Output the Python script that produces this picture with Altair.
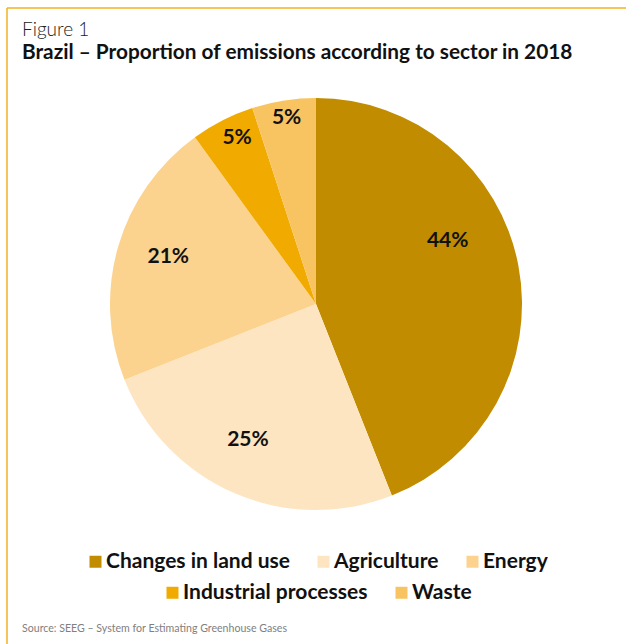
import altair as alt
import pandas as pd

sectors = ["Changes in land use", "Agriculture", "Energy", "Industrial processes", "Waste"]
shares = [44, 25, 21, 5, 5]
colors = ["#C18C00", "#FDE5C2", "#FBD38F", "#F1AA00", "#F8C461"]
labels = [f"{s}%" for s in shares]
title_text = "Figure 1"
subtitle_text = "Brazil – Proportion of emissions according to sector in 2018"
source_text = "Source: SEEG – System for Estimating Greenhouse Gases"

# label placement styles (radius in px, angular offset in radians)
label_radius = [146, 152, 155, 184, 188]
label_theta_off = [-0.258, 0.056, 0.024, 0.028, 0.0]

FONT = "Lato"
W, H = 626, 644
CX, CY, R = 316, 304, 206

df = pd.DataFrame({"sector": sectors, "share": shares, "idx": list(range(len(sectors))), "label": labels})

base = alt.Chart(df).transform_window(
    end="sum(share)", sort=[alt.SortField("idx")], frame=[None, 0]
).transform_calculate(
    start="datum.end - datum.share", mid="datum.end - datum.share / 2"
)

theta_scale = alt.Scale(domain=[0, 100])


def legend(x, y, cols):
    return alt.Legend(
        title=None, orient="none", legendX=x, legendY=y, direction="horizontal",
        columns=cols, symbolType="square", symbolSize=144, symbolStrokeWidth=0,
        symbolOpacity=1, labelFont=FONT, labelFontSize=21, labelFontWeight="bold",
        labelColor="#111111", labelOffset=0, columnPadding=23, padding=0,
        labelLimit=400,
    )


arcs1 = base.transform_filter("datum.idx < 3").mark_arc(outerRadius=R, strokeWidth=0).encode(
    x=alt.value(CX), y=alt.value(CY),
    theta=alt.Theta("start:Q", scale=theta_scale), theta2="end:Q",
    color=alt.Color("sector:N", scale=alt.Scale(domain=sectors[:3], range=colors[:3]),
                    legend=legend(85, 551, 3)),
)
arcs2 = base.transform_filter("datum.idx >= 3").mark_arc(outerRadius=R, strokeWidth=0).encode(
    x=alt.value(CX), y=alt.value(CY),
    theta=alt.Theta("start:Q", scale=theta_scale), theta2="end:Q",
    color=alt.Color("sector:N", scale=alt.Scale(domain=sectors[3:], range=colors[3:]),
                    legend=legend(162, 582, 2)),
)

texts = []
for i in range(len(sectors)):
    texts.append(
        base.transform_filter(f"datum.idx == {i}").mark_text(
            radius=label_radius[i], thetaOffset=label_theta_off[i], font=FONT,
            fontSize=21, fontWeight="bold", color="#111111",
        ).encode(
            x=alt.value(CX), y=alt.value(CY),
            theta=alt.Theta("mid:Q", scale=theta_scale), text="label:N",
        )
    )

one = pd.DataFrame({"t": [source_text], "a": [title_text], "b": [subtitle_text]})

title1 = alt.Chart(one).mark_text(
    align="left", baseline="alphabetic", font=FONT, fontSize=19, fontWeight=300, color="#222222"
).encode(x=alt.value(22), y=alt.value(36), text="a:N")
title2 = alt.Chart(one).mark_text(
    align="left", baseline="alphabetic", font=FONT, fontSize=20.8, fontWeight="bold", color="#111111"
).encode(x=alt.value(22), y=alt.value(59), text="b:N")

source = alt.Chart(one).mark_text(
    align="left", baseline="alphabetic", font=FONT, fontSize=10.6, color="#808080"
).encode(x=alt.value(22), y=alt.value(632), text="t:N")

border_top = alt.Chart(one).mark_rule(color="#F4B120", strokeWidth=1.5).encode(
    x=alt.value(7), x2=alt.value(W), y=alt.value(8)
)
border_left = alt.Chart(one).mark_rule(color="#F4B120", strokeWidth=1.5).encode(
    x=alt.value(7), y=alt.value(8), y2=alt.value(H)
)

chart = alt.layer(
    border_top, border_left, arcs1, arcs2, *texts, title1, title2, source
).resolve_scale(
    color="independent", theta="shared"
).properties(
    width=W, height=H, autosize="none", padding=0,
).configure_view(stroke=None)

chart.save("out.html", embed_options={"renderer": "svg", "actions": False})
